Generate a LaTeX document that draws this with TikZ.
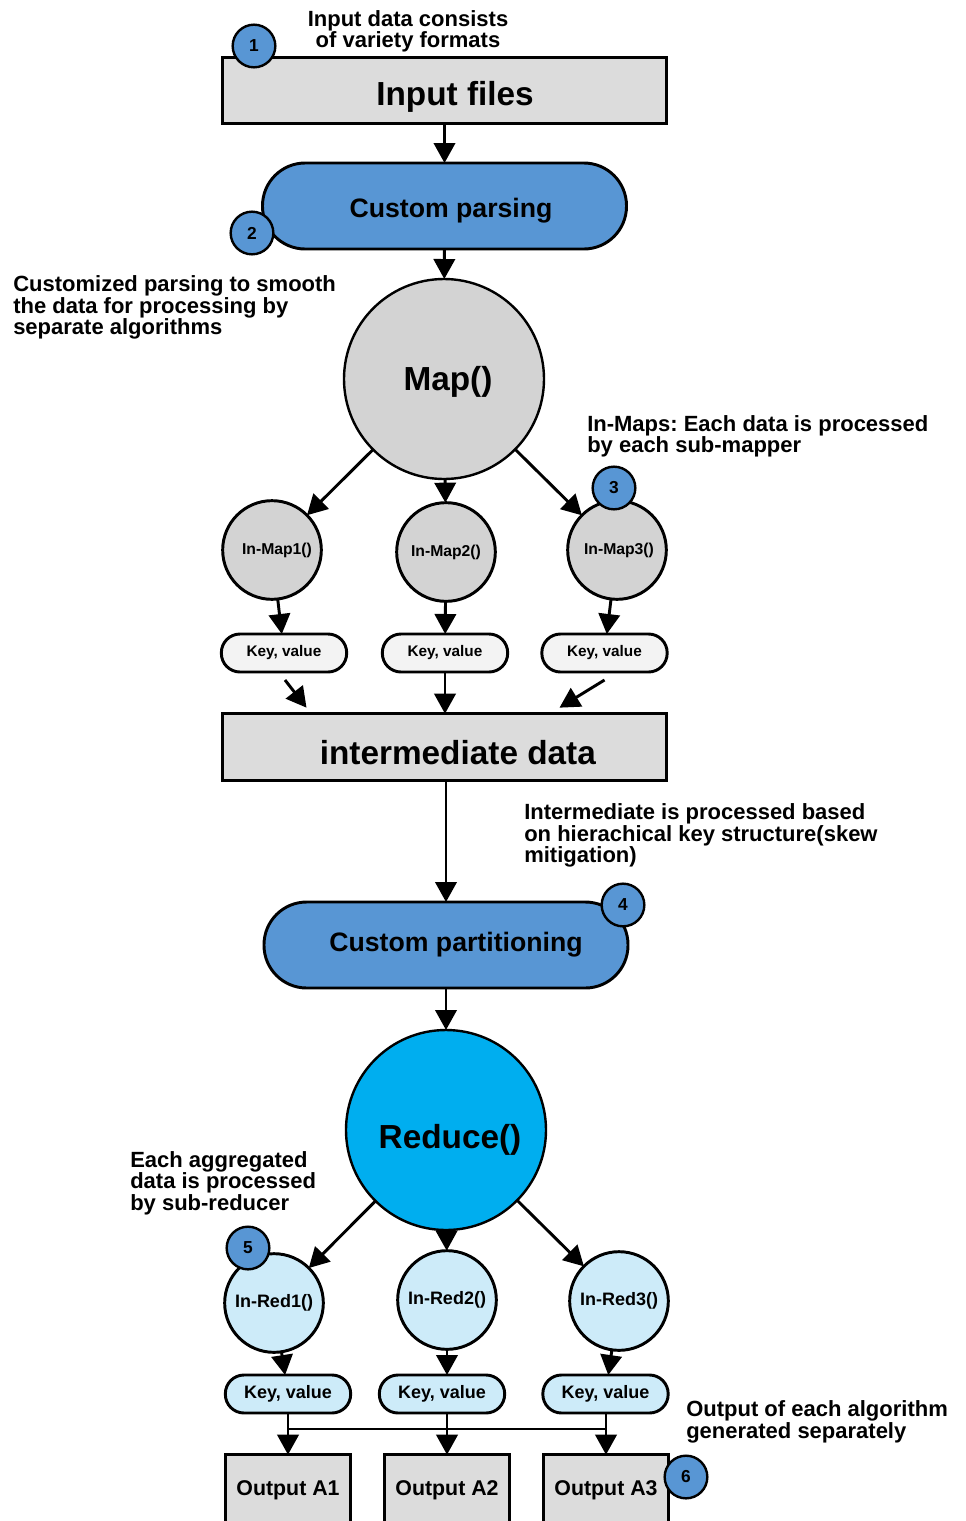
\documentclass[tikz,border=0pt]{standalone}
\usepackage{fontspec}
\setmainfont{Liberation Sans}
\usepackage{color}
\usepackage[usenames,dvipsnames]{xcolor}
\usetikzlibrary{arrows.meta,calc}
\frenchspacing

\definecolor{boxgrey}{RGB}{220,220,220}
\definecolor{mapgrey}{RGB}{211,211,211}
\definecolor{parseblue}{RGB}{88,150,212}
\definecolor{redcyan}{RGB}{0,174,239}
\definecolor{redlight}{RGB}{205,235,249}
\definecolor{keywhite}{RGB}{243,243,243}

% move a label off the node centre: {twice the x offset}{y offset}{text}
\newcommand{\nudge}[3]{\raisebox{-#2}[\height][\depth]{\makebox[0pt]{\hspace*{#1}#3}}}

\begin{document}
\begin{tikzpicture}[x=0.75pt,y=0.75pt,yscale=-1,xscale=1,
  wideblock/.style={draw, line width=2.2pt, fill=boxgrey, minimum width=333pt, minimum height=50pt, inner sep=0pt, outer sep=0pt, font=\fontsize{25}{30}\selectfont\bfseries},
  pill/.style={draw, line width=2.2pt, fill=parseblue, rounded corners=32pt, minimum width=273pt, minimum height=64.5pt, inner sep=0pt, outer sep=0pt, font=\fontsize{20}{24}\selectfont\bfseries},
  bigball/.style={circle, draw, line width=1.8pt, minimum size=150pt, inner sep=0pt, outer sep=0pt, font=\fontsize{25}{30}\selectfont\bfseries},
  subball/.style={circle, draw, line width=2.2pt, minimum size=74pt, inner sep=0pt, outer sep=0pt, font=\fontsize{13.5}{16}\selectfont\bfseries},
  keybox/.style={draw, line width=2.2pt, rounded corners=14pt, minimum width=94pt, minimum height=28.5pt, inner sep=0pt, outer sep=0pt},
  outbox/.style={draw, line width=2.2pt, fill=boxgrey, minimum width=94pt, minimum height=53pt, inner sep=0pt, outer sep=0pt, font=\fontsize{16}{19}\selectfont\bfseries},
  badge/.style={circle, draw, line width=1.8pt, fill=parseblue, minimum size=32pt, inner sep=0pt, font=\fontsize{13}{15}\selectfont\bfseries},
  note/.style={inner sep=0pt, align=left, font=\fontsize{16.5}{16}\selectfont\bfseries},
  arr/.style={line width=2.2pt, -{Triangle[width=16pt,length=15pt]}},
  bus/.style={line width=2.2pt}
]
%set diagram size
\fill[white] (0,0) rectangle (966,1521);
\useasboundingbox (0,0) rectangle (966,1521);

%Shape: Rectangle [input]
\node (inp) at (444.5,90.5) [wideblock] {\nudge{15.75pt}{4.5pt}{Input files}};
%Shape: Rounded Rect [parsing]
\node (cpar) at (444.5,206) [pill] {\nudge{9.75pt}{3.75pt}{Custom parsing}};
%Shape: Circle [map]
\node (map) at (444,379) [bigball, fill=mapgrey] {\nudge{6pt}{2.25pt}{Map()}};

%Shape: Circle [in-maps]
\node (im1) at (272,550) [subball, fill=mapgrey, font=\fontsize{11.8}{14}\selectfont\bfseries] {\nudge{7.5pt}{0pt}{In-Map1()}};
\node (im2) at (446,552) [subball, fill=mapgrey, font=\fontsize{11.8}{14}\selectfont\bfseries] {In-Map2()};
\node (im3) at (617,550) [subball, fill=mapgrey, font=\fontsize{11.8}{14}\selectfont\bfseries] {\nudge{3pt}{0pt}{In-Map3()}};

%Shape: Rounded Rect [key value, map side]
\node (kv1) at (284,653) [keybox, fill=keywhite, font=\fontsize{11.5}{14}\selectfont\bfseries] {Key, value};
\node (kv2) at (445,653) [keybox, fill=keywhite, font=\fontsize{11.5}{14}\selectfont\bfseries] {Key, value};
\node (kv3) at (604.5,653) [keybox, fill=keywhite, font=\fontsize{11.5}{14}\selectfont\bfseries] {Key, value};

%Shape: Rectangle [intermediate]
\node (inter) at (444.5,747) [wideblock] {\nudge{20pt}{4.5pt}{intermediate data}};
%Shape: Rounded Rect [partitioning]
\node (cpart) at (446,945) [pill] {\nudge{15pt}{0pt}{Custom partitioning}};
%Shape: Circle [reduce]
\node (red) at (446,1130) [bigball, fill=redcyan] {\nudge{6pt}{7.5pt}{Reduce()}};

%Shape: Circle [in-reds]
\node (ir1) at (274,1303) [subball, fill=redlight] {In-Red1()};
\node (ir2) at (447,1300) [subball, fill=redlight] {In-Red2()};
\node (ir3) at (619,1301) [subball, fill=redlight] {In-Red3()};

%Shape: Rounded Rect [key value, reduce side]
\node (kv4) at (288,1394) [keybox, fill=redlight, font=\fontsize{13.5}{16}\selectfont\bfseries] {Key, value};
\node (kv5) at (442,1394) [keybox, fill=redlight, font=\fontsize{13.5}{16}\selectfont\bfseries] {Key, value};
\node (kv6) at (605.5,1394) [keybox, fill=redlight, font=\fontsize{13.5}{16}\selectfont\bfseries] {Key, value};

%Shape: Rectangle [outputs]
\node (out1) at (288,1490) [outbox] {Output A1};
\node (out2) at (447,1490) [outbox] {Output A2};
\node (out3) at (606,1490) [outbox] {Output A3};

%Straight Lines [arrows]
\draw[arr] (inp) -- (cpar);
\draw[arr] (cpar) -- (map);
\draw[arr] (map) -- (im1);
\draw[arr] (map) -- (im2);
\draw[arr] (map) -- (im3);
\draw[arr] (im1) -- (kv1);
\draw[arr] (im2) -- (kv2);
\draw[arr] (im3) -- (kv3);
\draw[arr] ($(kv1.south)+(1,8)$) -- ($(inter.north west)+(84,-6)$);
\draw[arr] (kv2) -- (kv2 |- inter.north);
\draw[arr] ($(kv3.south)+(0,8)$) -- ($(inter.north east)+(-107,-6)$);
\draw[arr] (inter.south -| cpart) -- (cpart);
\draw[arr] (cpart) -- (red);
\draw[arr] (red) -- (ir1);
\draw[arr] (red) -- (ir2);
\draw[arr] (red) -- (ir3);
\draw[arr] (ir1) -- (kv4);
\draw[arr] (ir2) -- (ir2 |- kv5.north);
\draw[arr] (ir3) -- (kv6);

%Straight Lines [output bus]
\coordinate (busy) at (0,1429);
\draw[bus] (kv4.south |- busy) -- (out3.north |- busy);
\draw[arr] (kv4) -- (out1);
\draw[arr] (out2.north |- kv5.south) -- (out2);
\draw[arr] (out3.north |- kv6.south) -- (out3);

% Badges
\node (b1) at (254,46) [badge] {1};
\node (b2) at (252,233) [badge] {2};
\node (b3) at (614,488) [badge] {3};
\node (b4) at (623,905) [badge] {4};
\node (b5) at (248,1248) [badge] {5};
\node (b6) at (686,1477) [badge] {6};

% Text Node
\node (t1) at (408,31.5) [note, align=center] {Input data consists\\of variety formats};
% Text Node
\node (t2) at (13,307.5) [note, anchor=west] {Customized parsing to smooth\\the data for processing by\\separate algorithms};
% Text Node
\node (t3) at (587,436.5) [note, anchor=west] {In-Maps: Each data is processed\\by each sub-mapper};
% Text Node
\node (t4) at (524,835.5) [note, anchor=west] {Intermediate is processed based\\on hierachical key structure(skew\\mitigation)};
% Text Node
\node (t5) at (130,1183) [note, anchor=west] {Each aggregated\\data is processed\\by sub-reducer};
% Text Node
\node (t6) at (686,1422) [note, anchor=west] {Output of each algorithm\\generated separately};

\end{tikzpicture}
\end{document}
